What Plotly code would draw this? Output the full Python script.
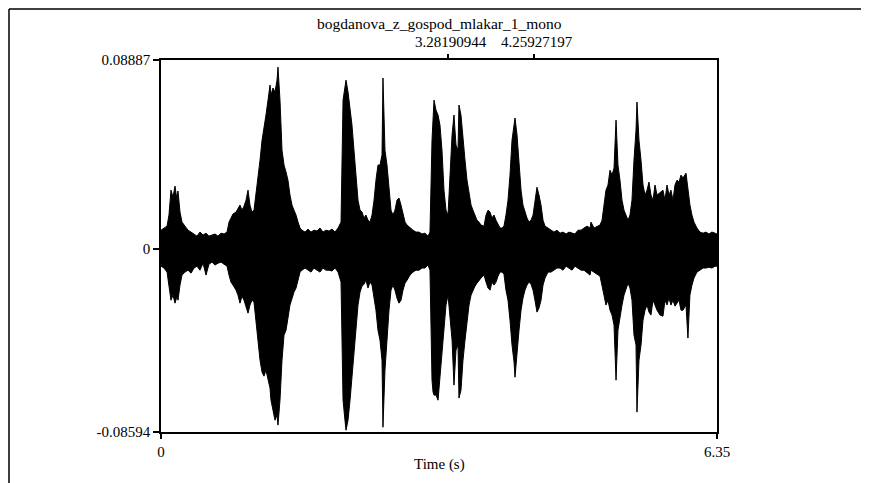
import plotly.graph_objects as go

# Waveform envelope (time in s, upper / lower amplitude)
time_s = [0.000,0.034,0.069,0.091,0.114,0.137,0.160,0.183,0.194,0.217,0.240,0.274,0.308,0.343,0.377,0.411,0.445,0.480,0.514,0.548,
0.582,0.617,0.651,0.685,0.720,0.754,0.777,0.799,0.822,0.857,0.879,0.902,0.925,0.948,0.971,0.994,1.016,1.039,1.062,1.085,
1.108,1.131,1.154,1.176,1.199,1.222,1.245,1.256,1.279,1.302,1.325,1.336,1.359,1.382,1.405,1.428,1.450,1.473,1.496,1.519,
1.542,1.565,1.588,1.610,1.645,1.679,1.713,1.747,1.782,1.816,1.850,1.884,1.919,1.953,1.987,2.022,2.056,2.079,2.101,2.113,
2.136,2.159,2.181,2.204,2.227,2.250,2.273,2.296,2.318,2.341,2.364,2.387,2.410,2.433,2.455,2.478,2.501,2.524,2.535,2.558,
2.581,2.604,2.627,2.649,2.672,2.695,2.718,2.741,2.764,2.787,2.810,2.844,2.878,2.912,2.947,2.981,3.015,3.049,3.072,3.095,
3.107,3.118,3.141,3.164,3.186,3.209,3.232,3.255,3.278,3.301,3.324,3.346,3.369,3.392,3.403,3.426,3.449,3.472,3.495,3.518,
3.541,3.563,3.586,3.609,3.632,3.655,3.689,3.712,3.735,3.758,3.780,3.803,3.826,3.849,3.872,3.895,3.917,3.940,3.963,3.986,
4.009,4.032,4.043,4.066,4.089,4.112,4.134,4.157,4.180,4.203,4.226,4.249,4.271,4.294,4.317,4.340,4.363,4.386,4.420,4.454,
4.488,4.523,4.557,4.591,4.626,4.660,4.694,4.728,4.763,4.797,4.831,4.865,4.900,4.911,4.945,4.980,5.014,5.037,5.059,5.082,
5.105,5.128,5.151,5.174,5.197,5.219,5.242,5.265,5.288,5.311,5.334,5.356,5.379,5.402,5.425,5.436,5.459,5.482,5.505,5.528,
5.551,5.573,5.596,5.619,5.642,5.665,5.699,5.733,5.756,5.779,5.802,5.824,5.847,5.870,5.893,5.916,5.939,5.961,5.996,6.018,
6.041,6.064,6.087,6.121,6.155,6.190,6.224,6.258,6.292,6.327,6.350]

upper = [.0089,.0099,.0108,.0160,.0277,.0244,.0296,.0230,.0273,.0174,.0127,.0108,.0089,.0080,.0071,.0061,.0080,.0066,.0075,.0061,
.0066,.0071,.0061,.0075,.0071,.0080,.0127,.0146,.0165,.0174,.0193,.0207,.0183,.0202,.0230,.0277,.0207,.0174,.0183,.0254,
.0324,.0418,.0512,.0583,.0630,.0700,.0771,.0724,.0757,.0738,.0794,.0855,.0700,.0465,.0395,.0362,.0324,.0254,.0207,.0183,
.0160,.0127,.0099,.0089,.0080,.0094,.0080,.0089,.0085,.0099,.0080,.0089,.0085,.0094,.0080,.0099,.0127,.0700,.0771,.0794,
.0738,.0653,.0583,.0465,.0324,.0230,.0183,.0174,.0146,.0160,.0136,.0127,.0160,.0230,.0324,.0395,.0395,.0442,.0804,.0465,
.0395,.0277,.0183,.0160,.0183,.0230,.0240,.0207,.0160,.0127,.0113,.0099,.0089,.0080,.0080,.0071,.0075,.0061,.0080,.0512,
.0663,.0700,.0653,.0630,.0583,.0465,.0277,.0183,.0160,.0324,.0536,.0630,.0489,.0465,.0677,.0630,.0512,.0418,.0324,.0254,
.0207,.0183,.0160,.0136,.0127,.0113,.0108,.0160,.0183,.0174,.0146,.0160,.0136,.0113,.0099,.0099,.0108,.0160,.0230,.0348,
.0512,.0583,.0616,.0536,.0395,.0277,.0207,.0174,.0146,.0127,.0136,.0160,.0230,.0291,.0254,.0207,.0136,.0108,.0099,.0089,
.0080,.0089,.0075,.0080,.0071,.0080,.0075,.0071,.0089,.0089,.0099,.0108,.0099,.0127,.0099,.0108,.0113,.0136,.0207,.0277,
.0301,.0371,.0348,.0381,.0606,.0395,.0324,.0230,.0183,.0160,.0136,.0160,.0230,.0418,.0559,.0691,.0512,.0418,.0301,.0254,
.0277,.0315,.0254,.0230,.0301,.0254,.0268,.0277,.0230,.0301,.0254,.0277,.0230,.0301,.0324,.0315,.0348,.0334,.0357,.0277,
.0207,.0160,.0127,.0099,.0080,.0075,.0080,.0071,.0080,.0075,.0071]

lower = [-.0080,-.0089,-.0108,-.0169,-.0240,-.0216,-.0254,-.0221,-.0240,-.0169,-.0122,-.0108,-.0099,-.0113,-.0089,-.0080,-.0099,-.0066,-.0122,-.0071,
-.0061,-.0075,-.0066,-.0061,-.0071,-.0080,-.0122,-.0155,-.0169,-.0193,-.0216,-.0254,-.0221,-.0240,-.0268,-.0301,-.0263,-.0240,-.0249,-.0334,
-.0428,-.0522,-.0578,-.0597,-.0569,-.0606,-.0653,-.0710,-.0757,-.0804,-.0780,-.0827,-.0710,-.0522,-.0404,-.0381,-.0324,-.0263,-.0230,-.0202,
-.0183,-.0146,-.0108,-.0099,-.0089,-.0099,-.0108,-.0089,-.0099,-.0108,-.0089,-.0099,-.0099,-.0103,-.0089,-.0108,-.0155,-.0710,-.0804,-.0851,
-.0804,-.0710,-.0639,-.0522,-.0381,-.0263,-.0202,-.0174,-.0165,-.0146,-.0183,-.0155,-.0169,-.0216,-.0287,-.0381,-.0428,-.0522,-.0837,-.0569,
-.0428,-.0287,-.0193,-.0169,-.0193,-.0230,-.0254,-.0240,-.0193,-.0160,-.0146,-.0122,-.0108,-.0099,-.0099,-.0089,-.0089,-.0075,-.0099,-.0616,
-.0672,-.0686,-.0686,-.0710,-.0616,-.0522,-.0381,-.0263,-.0216,-.0334,-.0428,-.0639,-.0475,-.0451,-.0700,-.0663,-.0522,-.0428,-.0334,-.0263,
-.0216,-.0193,-.0174,-.0160,-.0146,-.0136,-.0122,-.0155,-.0183,-.0193,-.0155,-.0169,-.0155,-.0127,-.0108,-.0108,-.0118,-.0193,-.0240,-.0334,
-.0451,-.0531,-.0602,-.0475,-.0381,-.0287,-.0230,-.0193,-.0169,-.0155,-.0165,-.0193,-.0240,-.0296,-.0277,-.0240,-.0169,-.0136,-.0108,-.0108,
-.0099,-.0089,-.0089,-.0099,-.0080,-.0089,-.0099,-.0080,-.0089,-.0099,-.0099,-.0108,-.0122,-.0099,-.0108,-.0118,-.0127,-.0169,-.0216,-.0263,
-.0240,-.0287,-.0310,-.0357,-.0616,-.0381,-.0334,-.0263,-.0216,-.0193,-.0160,-.0183,-.0240,-.0404,-.0451,-.0766,-.0522,-.0451,-.0334,-.0287,
-.0263,-.0296,-.0310,-.0240,-.0263,-.0287,-.0310,-.0315,-.0240,-.0263,-.0230,-.0263,-.0240,-.0268,-.0254,-.0240,-.0287,-.0287,-.0263,-.0418,
-.0216,-.0169,-.0136,-.0108,-.0099,-.0089,-.0089,-.0085,-.0089,-.0080,-.0080]

x_range = [0, 6.35]
y_range = [-0.08594, 0.08887]
y_tick_vals = [-0.08594, 0, 0.08887]
y_tick_text = ["-0.08594", "0", "0.08887"]
x_tick_vals = [0, 6.35]
x_tick_text = ["0", "6.35"]
top_marks = [3.28190944, 4.25927197]
top_mark_text = ["3.28190944", "4.25927197"]
title_text = "bogdanova_z_gospod_mlakar_1_mono"
x_title = "Time (s)"

FONT = dict(family="Liberation Serif, Times New Roman, serif", size=15, color="black")
TITLE_FONT = dict(family="Liberation Serif, Times New Roman, serif", size=15.5, color="black")

fig = go.Figure()
fig.add_trace(go.Scatter(
    x=time_s + time_s[::-1], y=upper + lower[::-1],
    fill="toself", fillcolor="black", mode="lines",
    line=dict(color="black", width=1), hoverinfo="skip", showlegend=False))
# invisible trace to activate the top axis
fig.add_trace(go.Scatter(x=x_range, y=[0, 0], xaxis="x2", mode="lines",
                         line=dict(width=0), hoverinfo="skip", showlegend=False))

# the page body adds an 8px margin, so the figure is 861x475 placed at (8, 8)
fig.update_layout(
    width=861, height=475,
    margin=dict(l=153, r=152, t=52, b=51),
    paper_bgcolor="white", plot_bgcolor="white",
    font=FONT,
    showlegend=False,
    xaxis=dict(range=x_range, tickvals=x_tick_vals, ticktext=x_tick_text,
               ticks="outside", ticklen=5, tickwidth=1.5, tickcolor="black",
               showgrid=False, zeroline=False, showline=True, linecolor="black",
               linewidth=1.5, mirror=True, tickfont=FONT),
    xaxis2=dict(range=x_range, overlaying="x", side="top", tickvals=top_marks,
                ticks="outside", ticklen=5, tickwidth=1.5, tickcolor="black",
                showticklabels=False, showgrid=False, zeroline=False, showline=False),
    yaxis=dict(range=y_range, tickvals=y_tick_vals, ticktext=y_tick_text,
               ticks="outside", ticklen=6, tickwidth=1.5, tickcolor="black",
               showgrid=False, zeroline=False, showline=True, linecolor="black",
               linewidth=1.5, mirror=True, tickfont=FONT),
)

annotations = [
    dict(text=title_text, x=0.5, y=1.0968, xref="paper", yref="paper",
         xanchor="center", yanchor="middle", showarrow=False, font=TITLE_FONT),
    dict(text=x_title, x=0.5, y=-0.0887, xref="paper", yref="paper",
         xanchor="center", yanchor="middle", showarrow=False, font=FONT),
]
for v, t in zip(top_marks, top_mark_text):
    annotations.append(dict(text=t, x=v, y=1.0484, xref="x", yref="paper", xshift=3,
                            xanchor="center", yanchor="middle", showarrow=False, font=FONT))
fig.update_layout(annotations=annotations)

# outer picture border (top, left, right)
for x0, y0, x1, y1 in [(-0.2734, 1.1371, 1.268, 1.1371),
                       (-0.2734, 1.1371, -0.2734, -0.2),
                       (1.268, 1.1371, 1.268, -0.2)]:
    fig.add_shape(type="line", xref="paper", yref="paper", x0=x0, y0=y0, x1=x1, y1=y1,
                  line=dict(color="black", width=1.5))

fig.write_html("out.html")
